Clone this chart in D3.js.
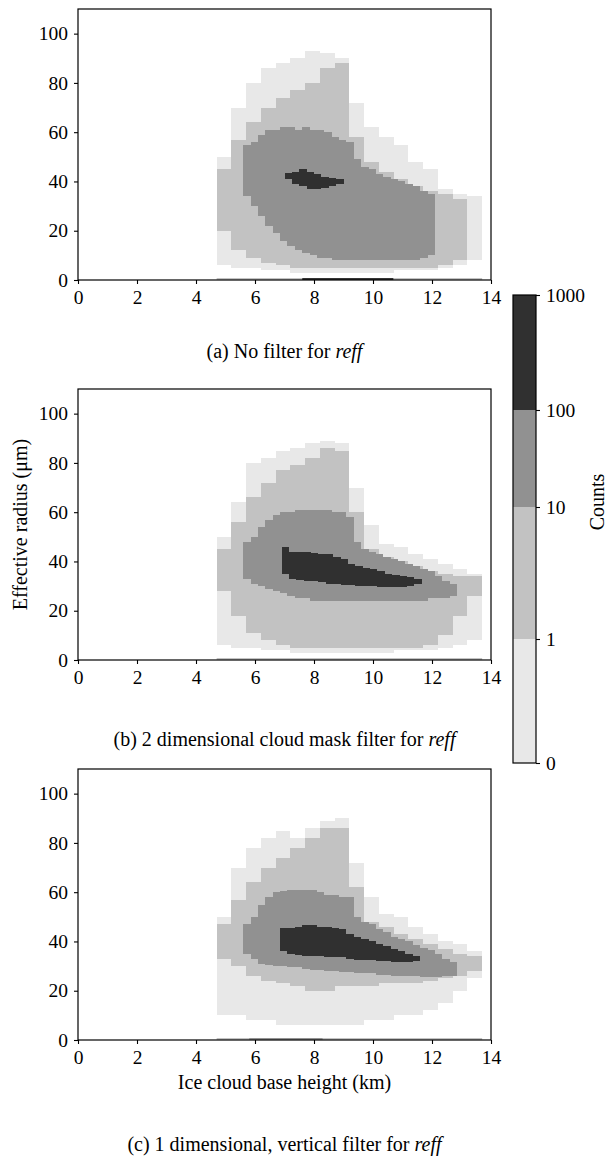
<!DOCTYPE html>
<html>
<head>
<meta charset="utf-8">
<script src="https://cdn.jsdelivr.net/npm/d3@7"></script>
<style>
  body { margin: 0; background: #fff; }
  svg { display: block; }
  svg text { font-family: "Liberation Serif", "DejaVu Serif", serif !important; fill: #000; }
</style>
</head>
<body>
<svg id="chart" width="610" height="1158"></svg>
<script>
// x ticks, y ticks
var xTicks = [0, 2, 4, 6, 8, 10, 12, 14];
var yTicks = [0, 20, 40, 60, 80, 100];

// colour levels (counts)
var countBounds = [1, 10, 100];
var countColors = ['#e8e8e8', '#c2c2c2', '#919191', '#303030'];
var barLabels = ['0', '1', '10', '100', '1000'];

// representative counts of each layer
var layerCounts = [0.5, 5, 50, 500];

// column starts and widths (km) of each layer
var outerStart = 4.7, outerStep = 0.5;
var midStart = 5.6, midStep = 0.25;
var coreStep = 0.25;

// (a) no filter : [lo, hi] in um per column
var aOuter = [[6,50],[5,70],[5,80],[4,86],[4,88],[3,90],[3,93],[3,92],[3,90],
              [3,72],[3,62],[3,58],[4,55],[4,48],[4,45],[5,37],[6,35],[8,34]];
var aLight = [[20,45],[12,57],[9,64],[7,70],[6,74],[5,77],[5,80],[5,86],[5,88],
              [5,58],[5,48],[5,44],[5,41],[5,38],[5,36],[6,35],[8,33]];
var aMid = [[34,55],[30,56],[26,59],[22,61],[19,61],[16,62],[14,62],[12,61],[11,62],
            [10,61],[9,61],[9,60],[8,58],[8,57],[8,56],[8,49],[8,46],[8,45],[8,43],
            [8,42],[8,41],[8,40],[8,39],[8,38],[9,36],[10,35]];
var aCoreStart = 7.0;
var aCore = [[41,43.5],[39,44],[38,45],[37,44],[37,43],[37.5,42],[38,41.5],[39,41]];
var aZero = [[4.7,7.6,5],[7.6,10.7,500],[10.7,13.7,5]];

// (b) 2D cloud mask filter
var bOuter = [[6,50],[5,64],[5,80],[4,82],[4,85],[3,86],[3,88],[3,89],[3,88],
              [3,70],[3,55],[3,47],[4,46],[4,43],[4,41],[5,39],[6,37],[8,35]];
var bLight = [[28,45],[18,56],[11,66],[8,72],[6,77],[5,79],[5,82],[5,86],[5,85],
              [5,60],[5,45],[5,42],[5,40],[5,38],[6,36],[10,35],[18,34],[26,34]];
var bMid = [[33,48],[31,50],[30,54],[29,57],[28,59],[27,60],[26,60],[25,61],[25,61],
            [24,61],[24,61],[24,61],[24,60],[24,60],[24,58],[24,48],[24,45],[24,44],
            [24,43],[24,42],[24,41],[24,40],[24,39],[24,38],[24,37],[25,36],[25,34],
            [25,32],[26,31]];
var bCoreStart = 6.9;
var bCore = [[35,46],[33,44],[32.5,44],[32,44],[32,43.5],[31.5,43],[31,43],[31,42],
             [30.5,41],[30.5,39],[30,38],[30,37.5],[30,37],[29.5,36],[29.5,35],
             [29.5,34.5],[29.5,34],[30,33.5],[31,33]];
var bZero = [[4.7,13.7,5]];

// (c) 1D vertical filter
var cOuter = [[10,50],[10,70],[8,78],[8,82],[6,85],[6,82],[6,86],[6,89],[6,90],
              [6,72],[8,58],[8,51],[10,50],[10,46],[12,43],[15,40],[20,39],[25,36]];
var cLight = [[33,47],[30,57],[26,64],[24,70],[23,74],[22,78],[20,82],[20,86],[22,86],
              [22,62],[22,48],[23,46],[23,43],[23,41],[24,39],[25,37],[26,35],[28,34]];
var cMid = [[35,47],[33,50],[31,55],[30.5,58],[30,60],[30,60.5],[29.5,61],[29.5,61],
            [29,61],[28.5,61],[28.5,60],[28,59],[28,59],[27.5,58],[27.5,58],[27,50],
            [27,48],[27,47],[26.5,45],[26.5,44],[26,42],[26,41],[26,40],[26,38.5],
            [25.5,37.5],[25.5,36.5],[25.5,35],[26,33],[26,31.5]];
var cCoreStart = 6.85;
var cCore = [[36,45.5],[35,45.5],[34.5,46],[34,46.5],[34,46.5],[34,46],[33.5,46],
             [33.5,45.5],[33.5,45],[33,43],[32.5,42],[32.5,41],[32.5,40],[32,39],
             [32,38],[31.5,37],[31.5,36],[31.5,35],[32,34]];
var cZero = [[4.7,5.8,5],[5.8,8.3,50],[8.3,13.7,5]];

var svg = d3.select('#chart');
var left = 78, right = 491, plotH = 271;

var x = d3.scaleLinear().domain([0, 14]).range([left, right]);
var color = d3.scaleThreshold().domain(countBounds).range(countColors);

var panels = [
  {top: 9, outer: aOuter, light: aLight, mid: aMid, core: aCore, coreStart: aCoreStart,
   zero: aZero, tag: '(a) No filter for ', capY: 358},
  {top: 389, outer: bOuter, light: bLight, mid: bMid, core: bCore, coreStart: bCoreStart,
   zero: bZero, tag: '(b) 2 dimensional cloud mask filter for ', capY: 746},
  {top: 769, outer: cOuter, light: cLight, mid: cMid, core: cCore, coreStart: cCoreStart,
   zero: cZero, tag: '(c) 1 dimensional, vertical filter for ', capY: 1151}
];

function styleAxis(sel) {
  sel.select('.domain').remove();
  sel.selectAll('text')
    .style('font-family', '"Liberation Serif", serif')
    .style('font-size', '19.5px')
    .attr('fill', '#000');
  sel.selectAll('line').attr('stroke-width', 1.1);
}

panels.forEach(function(p) {
  var y = d3.scaleLinear().domain([0, 110]).range([p.top + plotH, p.top]);
  var g = svg.append('g');

  var layers = [
    {cols: p.outer, start: outerStart, step: outerStep, count: layerCounts[0]},
    {cols: p.light, start: outerStart, step: outerStep, count: layerCounts[1]},
    {cols: p.mid, start: midStart, step: midStep, count: layerCounts[2]},
    {cols: p.core, start: p.coreStart, step: coreStep, count: layerCounts[3]}
  ];

  // histogram columns, light to dark
  layers.forEach(function(L) {
    g.append('g')
      .selectAll('rect')
      .data(L.cols)
      .join('rect')
      .attr('x', function(d, i) { return x(L.start + i * L.step); })
      .attr('width', function(d, i) { return x(L.start + (i + 1) * L.step) - x(L.start + i * L.step); })
      .attr('y', function(d) { return y(d[1]); })
      .attr('height', function(d) { return y(d[0]) - y(d[1]); })
      .attr('fill', color(L.count))
      .attr('shape-rendering', 'crispEdges');
  });

  // bottom row (0 um bin)
  g.append('g')
    .selectAll('rect')
    .data(p.zero)
    .join('rect')
    .attr('x', function(d) { return x(d[0]); })
    .attr('width', function(d) { return x(d[1]) - x(d[0]); })
    .attr('y', y(0.8))
    .attr('height', y(0) - y(0.8))
    .attr('fill', function(d) { return color(d[2]); });

  // frame
  g.append('rect')
    .attr('x', left).attr('y', p.top)
    .attr('width', right - left).attr('height', plotH)
    .attr('fill', 'none').attr('stroke', '#000').attr('stroke-width', 1.2);

  var gx = g.append('g')
    .attr('transform', 'translate(0,' + (p.top + plotH) + ')')
    .call(d3.axisBottom(x).tickValues(xTicks).tickSize(4).tickPadding(6));
  styleAxis(gx);

  var gy = g.append('g')
    .attr('transform', 'translate(' + left + ',0)')
    .call(d3.axisLeft(y).tickValues(yTicks).tickSize(4).tickPadding(6));
  styleAxis(gy);

  // caption
  var cap = svg.append('text')
    .attr('x', (left + right) / 2)
    .attr('y', p.capY)
    .attr('text-anchor', 'middle')
    .style('font-size', '20px');
  cap.append('tspan').text(p.tag);
  cap.append('tspan').attr('font-style', 'italic').text('reff');
});

// axis titles
svg.append('text')
  .attr('x', (left + right) / 2)
  .attr('y', 1089)
  .attr('text-anchor', 'middle')
  .style('font-size', '20px')
  .text('Ice cloud base height (km)');

svg.append('text')
  .attr('transform', 'translate(27,' + (389 + plotH / 2) + ') rotate(-90)')
  .attr('text-anchor', 'middle')
  .style('font-size', '20px')
  .text('Effective radius (μm)');

// colorbar
var cbLeft = 513, cbW = 23;
var cb = d3.scaleLinear().domain([0, 1, 2, 3, 4]).range([763, 639, 507, 410, 295]);
var cbG = svg.append('g');
cbG.selectAll('rect')
  .data(countColors)
  .join('rect')
  .attr('x', cbLeft)
  .attr('width', cbW)
  .attr('y', function(d, i) { return cb(i + 1); })
  .attr('height', function(d, i) { return cb(i) - cb(i + 1); })
  .attr('fill', function(d) { return d; })
  .attr('shape-rendering', 'crispEdges');
cbG.append('rect')
  .attr('x', cbLeft).attr('y', cb(4))
  .attr('width', cbW).attr('height', cb(0) - cb(4))
  .attr('fill', 'none').attr('stroke', '#000').attr('stroke-width', 1.2);

var gcb = svg.append('g')
  .attr('transform', 'translate(' + (cbLeft + cbW) + ',0)')
  .call(d3.axisRight(cb).tickValues([0, 1, 2, 3, 4]).tickSize(4).tickPadding(6)
    .tickFormat(function(i) { return barLabels[i]; }));
styleAxis(gcb);

svg.append('text')
  .attr('transform', 'translate(604,502) rotate(-90)')
  .attr('text-anchor', 'middle')
  .style('font-size', '20px')
  .text('Counts');
</script>
</body>
</html>
